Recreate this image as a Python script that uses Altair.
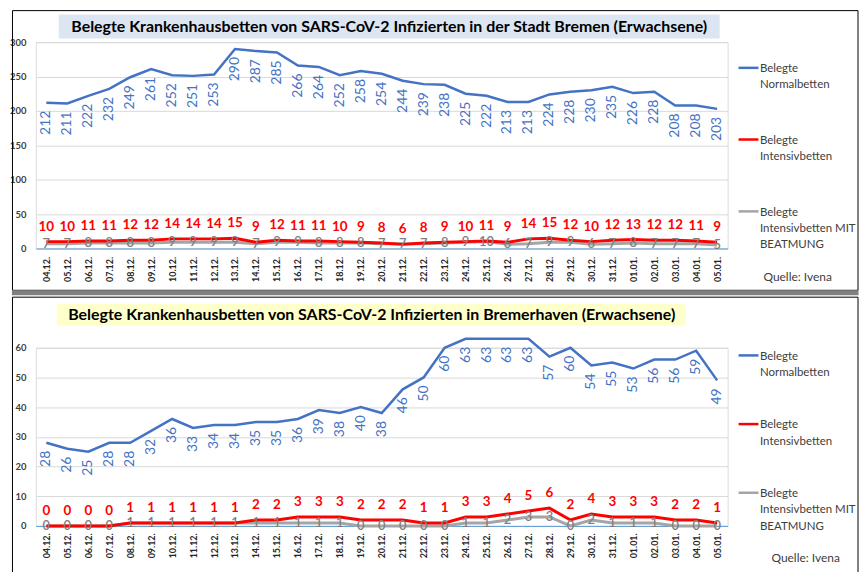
import altair as alt
import pandas as pd

# ---------------- data ----------------
dates = ["04.12.", "05.12.", "06.12.", "07.12.", "08.12.", "09.12.", "10.12.", "11.12.",
         "12.12.", "13.12.", "14.12.", "15.12.", "16.12.", "17.12.", "18.12.", "19.12.",
         "20.12.", "21.12.", "22.12.", "23.12.", "24.12.", "25.12.", "26.12.", "27.12.",
         "28.12.", "29.12.", "30.12.", "31.12.", "01.01.", "02.01.", "03.01.", "04.01.", "05.01."]

hb_normal = [212, 211, 222, 232, 249, 261, 252, 251, 253, 290, 287, 285, 266, 264, 252, 258, 254,
             244, 239, 238, 225, 222, 213, 213, 224, 228, 230, 235, 226, 228, 208, 208, 203]
hb_intensiv = [10, 10, 11, 11, 12, 12, 14, 14, 14, 15, 9, 12, 11, 11, 10, 9, 8,
               6, 8, 9, 10, 11, 9, 14, 15, 12, 10, 12, 13, 12, 12, 11, 9]
hb_beatmung = [7, 7, 8, 8, 8, 8, 9, 9, 9, 9, 7, 9, 9, 8, 8, 8, 7,
               7, 7, 8, 9, 10, 6, 7, 9, 9, 6, 7, 8, 7, 7, 7, 5]

bhv_normal = [28, 26, 25, 28, 28, 32, 36, 33, 34, 34, 35, 35, 36, 39, 38, 40, 38,
              46, 50, 60, 63, 63, 63, 63, 57, 60, 54, 55, 53, 56, 56, 59, 49]
bhv_intensiv = [0, 0, 0, 0, 1, 1, 1, 1, 1, 1, 2, 2, 3, 3, 3, 2, 2,
                2, 1, 1, 3, 3, 4, 5, 6, 2, 4, 3, 3, 3, 2, 2, 1]
bhv_beatmung = [0, 0, 0, 0, 1, 1, 1, 1, 1, 1, 1, 1, 1, 1, 1, 0, 0,
                0, 0, 0, 1, 1, 2, 3, 3, 0, 2, 1, 1, 1, 0, 0, 0]

series_labels = [["Belegte", "Normalbetten"],
                 ["Belegte", "Intensivbetten"],
                 ["Belegte", "Intensivbetten MIT", "BEATMUNG"]]
source_text = "Quelle: Ivena"
title_hb = "Belegte Krankenhausbetten von SARS-CoV-2 Infizierten in der Stadt Bremen (Erwachsene)"
title_bhv = "Belegte Krankenhausbetten von SARS-CoV-2 Infizierten in Bremerhaven (Erwachsene)"
y_ticks_hb = [0, 50, 100, 150, 200, 250, 300]
y_ticks_bhv = [0, 10, 20, 30, 40, 50, 60]

# ---------------- style ----------------
FONT = "Lato"
BLUE = "#4472C4"
RED = "#FF0000"
GRAY = "#A5A5A5"
SERIES_COLORS = [BLUE, RED, GRAY]
FRAME_L, FRAME_R = 8.5, 858


def one_row():
    return alt.Data(values=[{"k": 0}])


def panel(lay, title, box_color, normal, intensiv, beatmung, y_ticks):
    PL, PT, W, H = lay["PL"], lay["PT"], lay["W"], lay["H"]

    def rx(px):
        return px - PL

    def ry(py):
        return py - PT

    df = pd.DataFrame({"date": dates, "normal": normal,
                       "intensiv": intensiv, "beatmung": beatmung})
    base = alt.Chart(df)

    xaxis = alt.Axis(labelAngle=-90, labelFont=FONT, labelFontSize=9, labelFontWeight="bold",
                     labelColor="#262626", ticks=False, tickSize=0, domain=True,
                     domainColor="#5B9BD5", domainWidth=1, labelPadding=lay["xpad"],
                     grid=False, title=None)
    yaxis = alt.Axis(values=y_ticks, grid=True, gridColor="#D9D9D9", gridWidth=1,
                     domain=False, ticks=False, tickSize=0, labelPadding=lay["ypad"],
                     labelFont=FONT, labelFontSize=9.5, labelFontWeight="bold",
                     labelColor="#404040", title=None)
    xenc = alt.X("date:O", sort=None, title=None,
                 scale=alt.Scale(type="point", padding=0.5), axis=xaxis)
    yscale = alt.Scale(domain=[y_ticks[0], y_ticks[-1]], nice=False)

    def yenc(field):
        return alt.Y(f"{field}:Q", scale=yscale, title=None, axis=yaxis)

    layers = []
    # frame
    layers.append(alt.Chart(one_row()).mark_rect(fillOpacity=0, stroke="black", strokeWidth=1).encode(
        x=alt.value(rx(FRAME_L)), x2=alt.value(rx(FRAME_R)), y=alt.value(ry(lay["frame_top"])),
        y2=alt.value(ry(lay["frame_bottom"]))))
    if lay.get("sep"):
        s0, s1 = lay["sep"]
        layers.append(alt.Chart(one_row()).mark_rect(fill="#808080").encode(
            x=alt.value(rx(FRAME_L - 0.5)), x2=alt.value(rx(FRAME_R + 0.5)),
            y=alt.value(ry(s0)), y2=alt.value(ry(s1))))
    # title box + title
    bx0, bx1, by0, by1 = lay["tbox"]
    layers.append(alt.Chart(one_row()).mark_rect(fill=box_color).encode(
        x=alt.value(rx(bx0)), x2=alt.value(rx(bx1)), y=alt.value(ry(by0)), y2=alt.value(ry(by1))))
    tx, ty = lay["tpos"]
    layers.append(alt.Chart(one_row()).mark_text(
        text=title, font=FONT, fontSize=lay["tsize"], fontWeight="bold", color="black",
        align="center", baseline="middle").encode(x=alt.value(rx(tx)), y=alt.value(ry(ty))))

    # lines
    layers.append(base.mark_line(color=GRAY, strokeWidth=3).encode(x=xenc, y=yenc("beatmung")))
    layers.append(base.mark_line(color=RED, strokeWidth=3).encode(x=xenc, y=yenc("intensiv")))
    layers.append(base.mark_line(color=BLUE, strokeWidth=2.5).encode(x=xenc, y=yenc("normal")))

    # data labels
    layers.append(base.mark_text(color=BLUE, angle=270, align="right", baseline="middle", dx=-8,
                                 font=FONT, fontSize=14).encode(
        x=xenc, y=yenc("normal"), text=alt.Text("normal:Q", format="d")))
    layers.append(base.mark_text(color=RED, align="center", baseline="middle", dy=-15,
                                 font=FONT, fontSize=13.5, fontWeight="bold").encode(
        x=xenc, y=yenc("intensiv"), text=alt.Text("intensiv:Q", format="d")))
    layers.append(base.mark_text(color="#7F7F7F", align="center", baseline="middle",
                                 font=FONT, fontSize=13, fontWeight=600).encode(
        x=xenc, y=yenc("beatmung"), text=alt.Text("beatmung:Q", format="d")))

    # legend
    lx0, lx1, ltx = lay["leg_x"]
    for lbl, col, ly in zip(series_labels, SERIES_COLORS, lay["leg_y"]):
        layers.append(alt.Chart(one_row()).mark_rule(color=col, strokeWidth=2.5).encode(
            x=alt.value(rx(lx0)), x2=alt.value(rx(lx1)), y=alt.value(ry(ly))))
        layers.append(alt.Chart(one_row()).mark_text(
            text=lbl, font=FONT, fontSize=11.5, color="#404040", align="left",
            baseline="alphabetic", lineHeight=16.5).encode(
            x=alt.value(rx(ltx)), y=alt.value(ry(ly) + 4.2)))
    qx, qy = lay["src"]
    layers.append(alt.Chart(one_row()).mark_text(
        text=source_text, font=FONT, fontSize=12, color="#404040", align="left",
        baseline="middle").encode(x=alt.value(rx(qx)), y=alt.value(ry(qy))))

    return alt.layer(*layers).properties(width=W, height=H)


lay_hb = dict(PL=32, PT=42.7, W=695, H=207.3, xpad=8, ypad=10,
              frame_top=11, frame_bottom=292, sep=(292, 297),
              tbox=(55, 719, 15, 39), tpos=(387, 27), tsize=16,
              leg_x=(738, 758, 759.5), leg_y=[68.5, 140.5, 212.7], src=(763, 279))
lay_bhv = dict(PL=32, PT=348.3, W=695, H=179, xpad=7, ypad=10,
               frame_top=297.5, frame_bottom=575,
               tbox=(53, 685, 304, 326), tpos=(369.5, 315.5), tsize=16,
               leg_x=(738, 758, 759.5), leg_y=[356, 425, 494], src=(771, 560))

top = panel(lay_hb, title_hb, "#DCE6F2", hb_normal, hb_intensiv, hb_beatmung, y_ticks_hb)
bottom = panel(lay_bhv, title_bhv, "#FFFFCC", bhv_normal, bhv_intensiv, bhv_beatmung, y_ticks_bhv)

chart = alt.vconcat(top, bottom, spacing=0).resolve_scale(
    x="independent", y="independent").properties(padding=0).configure_view(
    stroke=None).configure(background="white", padding=0)

chart.save("out.html", embed_options={"renderer": "svg", "actions": False})
